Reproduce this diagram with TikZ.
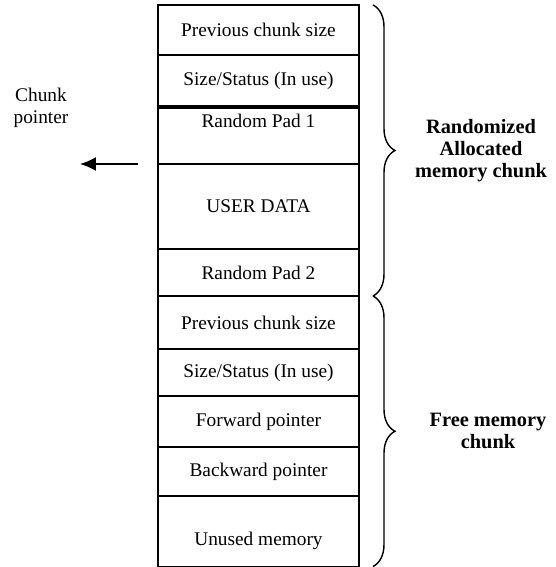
\documentclass[tikz,border=0pt]{standalone}
\usepackage{fontspec}
\setmainfont{Liberation Serif}
\usetikzlibrary{positioning,decorations.pathreplacing,arrows.meta}

\tikzset{
  cell/.style      = {shape=rectangle, draw, line width=0.7pt, outer sep=0pt,
                      minimum width=4.02cm, align=center},
  chunkbrace/.style = {draw, line width=0.8pt, decorate,
                       decoration={brace, amplitude=0.44cm}},
  bracetext/.style = {font=\fontsize{11.6pt}{12.5pt}\selectfont\bfseries, align=center},
  ptrarrow/.style  = {draw, line width=0.8pt, -{Latex[length=3.2mm,width=2.8mm]}}
}

\begin{document}
\begin{tikzpicture}[font=\fontsize{11pt}{12.5pt}\selectfont]
 \useasboundingbox (-3.16,0.1) rectangle (7.94,-11.24);

 % randomized allocated chunk
 \node [cell, minimum height=1.00cm, anchor=north west] (prev1) at (0,0) {Previous chunk size};
 \node [cell, minimum height=1.04cm, below=0pt of prev1] (size1) {Size/Status (In use)};
 \node [cell, minimum height=1.14cm, text depth=0.6cm, below=0pt of size1] (pad1) {Random Pad 1};
 \node [cell, minimum height=1.70cm, below=0pt of pad1] (user) {USER DATA};
 \node [cell, minimum height=0.94cm, below=0pt of user] (pad2) {Random Pad 2};

 % free chunk
 \node [cell, minimum height=1.06cm, below=0pt of pad2] (prev2) {Previous chunk size};
 \node [cell, minimum height=0.94cm, below=0pt of prev2] (size2) {Size/Status (In use)};
 \node [cell, minimum height=1.02cm, below=0pt of size2] (fwd) {Forward pointer};
 \node [cell, minimum height=0.98cm, below=0pt of fwd] (bwd) {Backward pointer};
 \node [cell, minimum height=1.41cm, text height=0.66cm, below=0pt of bwd] (unused) {Unused memory};

 \draw [line width=1.8pt] (size1.south west) -- (size1.south east);

 % braces
 \draw [chunkbrace] ([xshift=0.28cm]prev1.north east) -- ([xshift=0.28cm]pad2.south east)
   node [bracetext, midway, xshift=2.16cm] (alloc) {Randomized\\Allocated\\memory chunk};
 \draw [chunkbrace] ([xshift=0.28cm]prev2.north east) -- ([xshift=0.28cm]unused.south east)
   node [bracetext, midway, xshift=2.3cm] (free) {Free memory\\chunk};

 % chunk pointer
 \node [align=center] (ptrtext) at (-2.34,-2.06) {Chunk\\pointer};
 \coordinate (ptrstart) at ([xshift=-0.4cm]pad1.south west);
 \coordinate (ptrend) at ([xshift=-1.56cm]pad1.south west);
 \draw [ptrarrow] (ptrstart) -- (ptrend);
\end{tikzpicture}
\end{document}
